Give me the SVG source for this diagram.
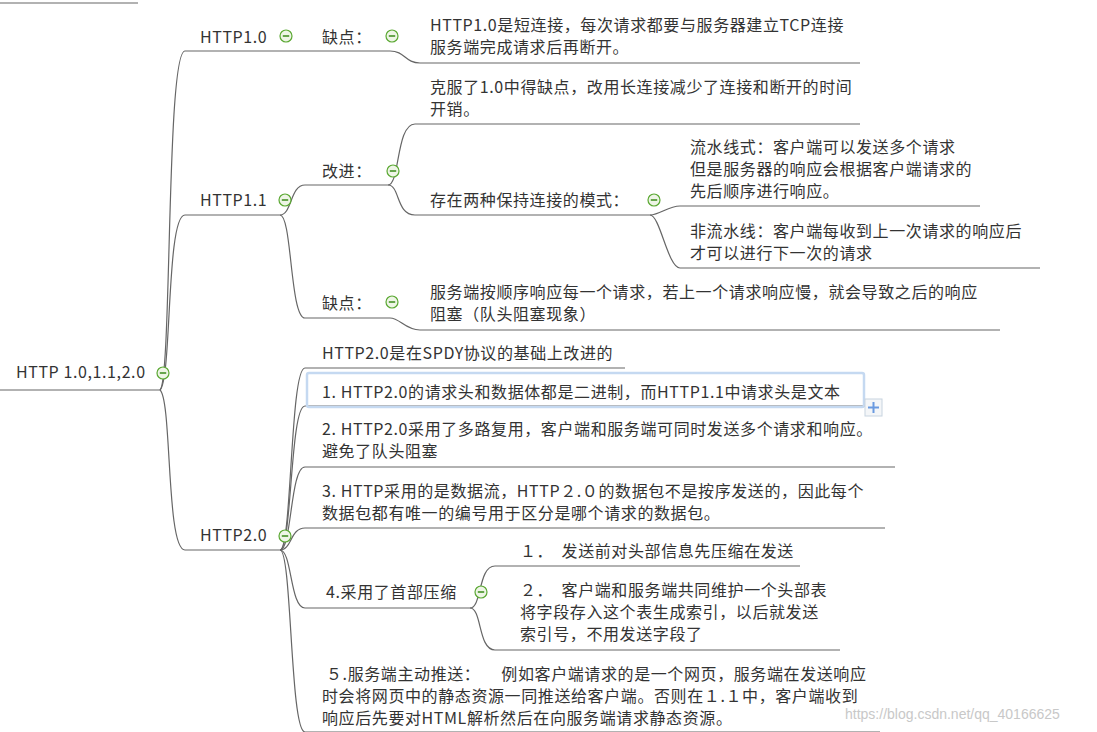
<svg xmlns="http://www.w3.org/2000/svg" width="1097" height="732" viewBox="0 0 1097 732">
<style>
text{font-family:"Noto Sans CJK SC","Liberation Sans",sans-serif;font-size:16px;fill:#333;white-space:pre;letter-spacing:0.6px}
.l{fill:none;stroke:#666;stroke-width:1.2}
.c{fill:#eef5e6;stroke:#5aa832;stroke-width:1.2}
.m{stroke:#3a8a1a;stroke-width:1.5}
</style>
<defs><g id="col"><circle r="6" class="c"/><line x1="-3.2" x2="3.2" class="m"/></g></defs>
<rect width="1097" height="732" fill="#fff"/>
<g id="connectors">
<path class="l" d="M0,3H138"/>
<path class="l" d="M0,390H160"/>
<path class="l" d="M160,390C172,380 166,51 185,51H390C405,51 405,63 420,63H860"/>
<path class="l" d="M160,390C172,380 166,215 185,215H280"/>
<path class="l" d="M160,390C172,400 166,550 185,550H280"/>
<path class="l" d="M280,215C292,215 290,185 305,185H388"/>
<path class="l" d="M280,215C292,215 290,318 305,318H390"/>
<path class="l" d="M388,185C400,185 396,124 415,124H860"/>
<path class="l" d="M388,185C400,185 396,215 415,215H650"/>
<path class="l" d="M390,318C400,318 405,330 420,330H1000"/>
<path class="l" d="M650,215C660,215 668,206 680,206H980"/>
<path class="l" d="M650,215C660,215 668,268 680,268H1040"/>
<path class="l" d="M280,550C292,550 290,368 305,368H625"/>
<path class="l" d="M280,550C292,550 290,406 305,406H865"/>
<path class="l" d="M280,550C292,550 290,467 305,467H895"/>
<path class="l" d="M280,550C292,550 290,528 305,528H885"/>
<path class="l" d="M280,550C292,550 290,608 305,608H470"/>
<path class="l" d="M280,550C292,550 290,732 305,732H880"/>
<path class="l" d="M470,608C482,608 478,566 495,566H800"/>
<path class="l" d="M470,608C482,608 478,650 495,650H840"/>
</g>
<g id="root"><text x="16" y="378">HTTP 1.0,1.1,2.0</text><use href="#col" x="163" y="373"/></g>
<g id="h10"><text x="200" y="43">HTTP1.0</text><use href="#col" x="286" y="36"/></g>
<g id="h10-cons"><text x="322" y="43">缺点：</text><use href="#col" x="392" y="36"/></g>
<g id="h10-cons-t"><text x="430" y="31">HTTP1.0是短连接，每次请求都要与服务器建立TCP连接</text><text x="430" y="53">服务端完成请求后再断开。</text></g>
<g id="h11"><text x="200" y="206">HTTP1.1</text><use href="#col" x="285" y="200"/></g>
<g id="h11-imp"><text x="322" y="177">改进：</text><use href="#col" x="393" y="171"/></g>
<g id="h11-imp1"><text x="430" y="93">克服了1.0中得缺点，改用长连接减少了连接和断开的时间</text><text x="430" y="115">开销。</text></g>
<g id="h11-imp2"><text x="430" y="206">存在两种保持连接的模式：</text><use href="#col" x="654" y="200"/></g>
<g id="pipe"><text x="690" y="153">流水线式：客户端可以发送多个请求</text><text x="690" y="175">但是服务器的响应会根据客户端请求的</text><text x="690" y="197">先后顺序进行响应。</text></g>
<g id="nopipe"><text x="690" y="237">非流水线：客户端每收到上一次请求的响应后</text><text x="690" y="259">才可以进行下一次的请求</text></g>
<g id="h11-cons"><text x="322" y="309">缺点：</text><use href="#col" x="392" y="302"/></g>
<g id="h11-cons-t"><text x="430" y="298">服务端按顺序响应每一个请求，若上一个请求响应慢，就会导致之后的响应</text><text x="430" y="320">阻塞（队头阻塞现象）</text></g>
<g id="h20"><text x="200" y="541">HTTP2.0</text><use href="#col" x="285" y="536"/></g>
<g id="spdy"><text x="322" y="359">HTTP2.0是在SPDY协议的基础上改进的</text></g>
<g id="p1"><rect x="307" y="373" width="557" height="34" rx="2" fill="none" stroke="#c5d9f1" stroke-width="2.5"/><text x="322" y="398">1. HTTP2.0的请求头和数据体都是二进制，而HTTP1.1中请求头是文本</text>
<rect x="865" y="399" width="17" height="17" fill="#f4f6f8" stroke="#c8d4e0"/><path d="M868,407.5H879M873.5,402V413" stroke="#6a9ae0" stroke-width="2"/></g>
<g id="p2"><text x="322" y="435">2. HTTP2.0采用了多路复用，客户端和服务端可同时发送多个请求和响应。</text><text x="322" y="457">避免了队头阻塞</text></g>
<g id="p3"><text x="322" y="497">3. HTTP采用的是数据流，HTTP２.０的数据包不是按序发送的，因此每个</text><text x="322" y="519">数据包都有唯一的编号用于区分是哪个请求的数据包。</text></g>
<g id="p4"><text x="326" y="598">4.采用了首部压缩</text><use href="#col" x="481" y="592"/></g>
<g id="p4a"><text x="520" y="557">１．  发送前对头部信息先压缩在发送</text></g>
<g id="p4b"><text x="520" y="596">２．  客户端和服务端共同维护一个头部表</text><text x="520" y="618">将字段存入这个表生成索引，以后就发送</text><text x="520" y="640">索引号，不用发送字段了</text></g>
<g id="p5"><text x="326" y="680">５.服务端主动推送：     例如客户端请求的是一个网页，服务端在发送响应</text><text x="322" y="702">时会将网页中的静态资源一同推送给客户端。否则在１.１中，客户端收到</text><text x="322" y="724">响应后先要对HTML解析然后在向服务端请求静态资源。</text></g>
<text x="845" y="719" style="font-size:14px;fill:#c8c8c8;font-family:'Liberation Sans',sans-serif;letter-spacing:0">https://blog.csdn.net/qq_40166625</text>
</svg>
